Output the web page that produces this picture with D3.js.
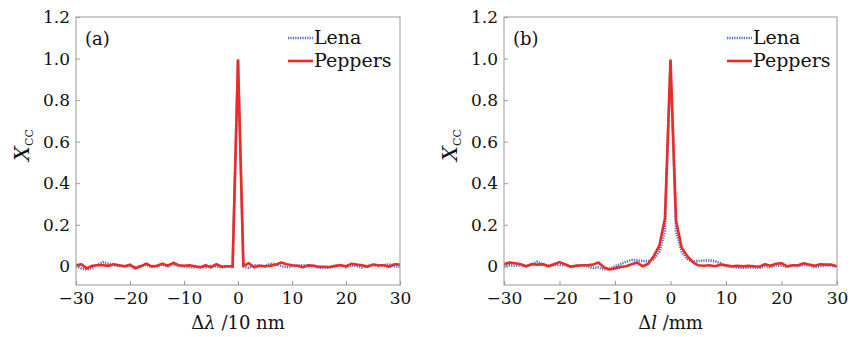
<!DOCTYPE html>
<html>
<head>
<meta charset="utf-8">
<script src="https://cdn.jsdelivr.net/npm/d3@7"></script>
<style>
  body { margin: 0; background: #fff; }
  text { font-family: "DejaVu Serif", serif; fill: #111; }
</style>
</head>
<body>
<div id="chart"></div>
<script>
// sample positions (same grid in both panels)
var xs = d3.range(-30, 31);

// panel (a): wavelength offset
var lenaA = [0.000, -0.010, -0.015, -0.008, 0.008, 0.020, 0.012, 0.005, 0.002, 0.000,
  0.003, -0.005, 0.002, 0.008, -0.003, 0.000, 0.008, 0.000, 0.010, 0.003,
  0.000, -0.003, -0.005, -0.002, -0.005, 0.002, 0.000, -0.005, 0.000, -0.003,
  0.995,
  0.000, -0.008, 0.005, 0.003, 0.000, 0.012, 0.010, 0.002, -0.005, 0.000,
  0.003, 0.005, 0.000, 0.002, -0.008, -0.008, -0.006, 0.000, 0.008, -0.005,
  0.005, 0.000, -0.005, 0.002, 0.008, 0.000, 0.005, 0.010, 0.000, -0.002];
var peppersA = [0.005, 0.010, -0.010, 0.003, 0.005, 0.005, 0.002, 0.010, 0.005, 0.000,
  0.008, -0.010, 0.000, 0.013, 0.000, 0.003, 0.013, 0.003, 0.017, 0.005,
  0.003, 0.005, 0.000, -0.005, 0.005, -0.005, 0.010, -0.002, 0.000, 0.000,
  0.990,
  0.002, 0.015, -0.005, 0.003, 0.000, 0.003, 0.008, 0.018, 0.010, 0.005,
  0.003, -0.005, 0.005, 0.003, -0.002, -0.002, -0.003, 0.002, 0.005, 0.000,
  0.012, 0.008, 0.005, -0.002, 0.008, 0.005, 0.005, -0.002, 0.010, 0.008];

// panel (b): distance offset
var lenaB = [0.000, 0.005, 0.003, 0.005, 0.000, 0.010, 0.022, 0.010, 0.003, 0.005,
  0.008, 0.005, 0.000, 0.003, 0.005, 0.000, -0.008, -0.005, -0.015, -0.012,
  0.000, 0.010, 0.022, 0.030, 0.028, 0.025, 0.025, 0.035, 0.070, 0.170,
  0.990,
  0.170, 0.070, 0.035, 0.025, 0.025, 0.028, 0.028, 0.025, 0.015, 0.000,
  -0.003, -0.005, -0.008, -0.005, -0.005, -0.008, 0.000, -0.005, 0.005, 0.003,
  -0.003, 0.003, 0.000, 0.008, 0.005, -0.005, 0.000, 0.005, 0.003, 0.000];
var peppersB = [0.010, 0.018, 0.015, 0.010, 0.000, 0.010, 0.008, 0.010, 0.000, 0.010,
  0.020, 0.010, -0.002, 0.002, 0.005, 0.005, 0.008, 0.018, -0.005, -0.015,
  -0.010, -0.003, 0.000, 0.010, 0.018, 0.000, 0.012, 0.050, 0.100, 0.230,
  0.990,
  0.220, 0.090, 0.050, 0.020, 0.005, 0.003, 0.005, 0.000, 0.008, 0.005,
  0.000, 0.002, 0.000, 0.002, 0.000, -0.002, 0.010, 0.003, 0.012, 0.015,
  0.000, 0.005, 0.005, 0.015, 0.008, 0.003, 0.010, 0.008, 0.008, 0.000];

var xTicks = [-30, -20, -10, 0, 10, 20, 30];
var yTicks = [0, 0.2, 0.4, 0.6, 0.8, 1.0, 1.2];
var seriesNames = ["Lena", "Peppers"];

var width = 850, height = 337;
var top_y = 17, bottom_y = 285;
var lenaColor = "#4f72cf", peppersColor = "#ee2a24";

var svg = d3.select("#chart")
  .append("svg")
  .attr("width", width)
  .attr("height", height);

svg.append("rect").attr("width", width).attr("height", height).attr("fill", "#fff");

function drawPanel(opts) {
  var x = d3.scaleLinear().domain([-30, 30]).range([opts.left, opts.right]);
  var y = d3.scaleLinear().domain([-0.09, 1.2]).range([bottom_y, top_y]);

  var g = svg.append("g");

  // x axis, inward ticks
  var xAxis = g.append("g")
    .attr("transform", "translate(0," + bottom_y + ")")
    .call(d3.axisBottom(x).tickValues(xTicks).tickSize(-4).tickPadding(7)
      .tickFormat(function(d){ return d < 0 ? "\u2212" + Math.abs(d) : d; }));
  xAxis.selectAll("text").attr("font-size", 17).attr("dy", "0.72em");

  // y axis, inward ticks
  var yAxis = g.append("g")
    .attr("transform", "translate(" + opts.left + ",0)")
    .call(d3.axisLeft(y).tickValues(yTicks).tickSize(-4).tickPadding(6)
      .tickFormat(function(d){ return d === 0 ? "0" : d3.format(".1f")(d); }));
  yAxis.selectAll("text").attr("font-size", 17);

  g.selectAll(".domain").remove();
  g.selectAll(".tick line").attr("stroke", "#999");
  g.selectAll(".tick text").attr("fill", "#111").attr("font-family", "DejaVu Serif, serif");

  // clip
  g.append("clipPath").attr("id", "clip_" + opts.id)
    .append("rect")
    .attr("x", opts.left).attr("y", top_y)
    .attr("width", opts.right - opts.left).attr("height", bottom_y - top_y);

  var line = d3.line()
    .x(function(d){ return x(d[0]); })
    .y(function(d){ return y(d[1]); });

  var plot = g.append("g").attr("clip-path", "url(#clip_" + opts.id + ")");

  plot.append("path")
    .datum(xs.map(function(v, i){ return [v, opts.lena[i]]; }))
    .attr("d", line)
    .attr("fill", "none")
    .attr("stroke", lenaColor)
    .attr("stroke-width", 2.6)
    .attr("stroke-dasharray", "1.3,1.1");

  plot.append("path")
    .datum(xs.map(function(v, i){ return [v, opts.peppers[i]]; }))
    .attr("d", line)
    .attr("fill", "none")
    .attr("stroke", peppersColor)
    .attr("stroke-width", 2.6)
    .attr("stroke-linejoin", "round");

  // frame
  g.append("rect")
    .attr("x", opts.left).attr("y", top_y)
    .attr("width", opts.right - opts.left).attr("height", bottom_y - top_y)
    .attr("fill", "none").attr("stroke", "#999").attr("stroke-width", 1);

  // panel tag
  g.append("text")
    .attr("x", opts.left + 9).attr("y", 45)
    .attr("font-size", 18)
    .text(opts.tag);

  // legend
  var leg = g.selectAll(".legend")
    .data(seriesNames)
    .enter().append("g")
    .attr("transform", function(d, i){ return "translate(" + opts.legX + "," + (44 + i * 23) + ")"; });
  leg.append("line")
    .attr("x1", 0).attr("x2", 25).attr("y1", -6).attr("y2", -6)
    .attr("stroke", function(d){ return d === "Lena" ? lenaColor : peppersColor; })
    .attr("stroke-width", function(d){ return d === "Lena" ? 2.4 : 2.6; })
    .attr("stroke-dasharray", function(d){ return d === "Lena" ? "1.3,1.1" : null; });
  leg.append("text")
    .attr("x", 26).attr("y", 0)
    .attr("font-size", 19)
    .text(function(d){ return d; });

  // y label X_CC
  var ylab = g.append("text")
    .attr("transform", "translate(" + opts.yLabX + "," + 145 + ") rotate(-90)")
    .attr("text-anchor", "middle");
  ylab.append("tspan").attr("font-style", "italic").attr("font-size", 21).text("X");
  ylab.append("tspan").attr("font-size", 11).attr("dy", 4).text("CC");

  // x label
  var xlab = g.append("text")
    .attr("x", (opts.left + opts.right) / 2)
    .attr("y", 329)
    .attr("text-anchor", "middle")
    .attr("font-size", 18);
  xlab.append("tspan").text("\u0394");
  xlab.append("tspan").attr("font-style", "italic").text(opts.xVar);
  xlab.append("tspan").text(opts.xUnit);
}

drawPanel({id: "a", left: 76, right: 400, lena: lenaA, peppers: peppersA,
  tag: "(a)", legX: 288, yLabX: 29, xVar: "\u03bb", xUnit: " /10 nm"});
drawPanel({id: "b", left: 504, right: 837, lena: lenaB, peppers: peppersB,
  tag: "(b)", legX: 727, yLabX: 457, xVar: "l", xUnit: " /mm"});
</script>
</body>
</html>
